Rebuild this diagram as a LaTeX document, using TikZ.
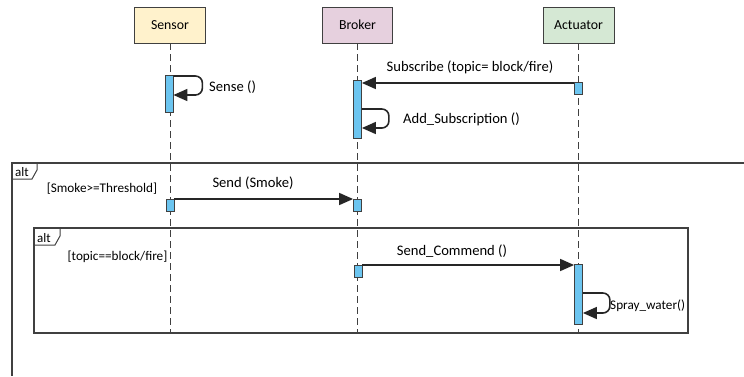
\documentclass[tikz,border=0pt]{standalone}
\usepackage{fontspec}
\setmainfont{Carlito}
\usetikzlibrary{arrows.meta}
\definecolor{sensorfill}{HTML}{FFF2CC}
\definecolor{brokerfill}{HTML}{E6D0DE}
\definecolor{actfill}{HTML}{D5E8D4}
\definecolor{actbar}{HTML}{6CC5F0}
\definecolor{linegray}{HTML}{404040}
\begin{document}
\begin{tikzpicture}[x=1pt,y=-1pt,
  font=\fontsize{14.6}{17}\selectfont,
  participant/.style={draw=linegray, line width=0.8pt, minimum width=71pt, minimum height=36pt, inner sep=0pt, font=\fontsize{13.8}{16}\selectfont},
  lifeline/.style={draw=linegray, dash pattern=on 7pt off 4pt, line width=0.8pt},
  actbox/.style={draw=linegray, fill=actbar, line width=0.8pt, minimum width=8pt, inner sep=0pt, anchor=north},
  msg/.style={draw=black!85, line width=1.6pt, -{Triangle[length=14pt,width=12pt]}},
  selfmsg/.style={msg, rounded corners=7pt},
  frameline/.style={draw=linegray, line width=1.3pt},
  lbl/.style={inner sep=0pt},
  small/.style={lbl, font=\fontsize{13.2}{15}\selectfont},
  altlbl/.style={lbl, anchor=west, font=\fontsize{13}{15}\selectfont},
]
\useasboundingbox (0,0) rectangle (744,376);

% participants
\node[participant, fill=sensorfill] (sensor) at (170,25) {Sensor};
\node[participant, fill=brokerfill, minimum width=70pt] (broker) at (357.5,25) {Broker};
\node[participant, fill=actfill] (actuator) at (578.5,25) {Actuator};

\coordinate (sensorEnd) at (170,333);
\coordinate (brokerEnd) at (357.5,333);
\coordinate (actuatorEnd) at (578.5,333);
\draw[lifeline] (sensor.south) -- (sensorEnd);
\draw[lifeline] (broker.south) -- (brokerEnd);
\draw[lifeline] (actuator.south) -- (actuatorEnd);

% frames
\draw[frameline] (744,163) -- (12,163) -- (12,376);
\draw[frameline, line width=1pt] (12,179) -- (32,179) -- (37,170) -- (37,163);
\node[altlbl] (alt1) at (15,172) {alt};
\draw[frameline] (34,228) rectangle (688,333);
\draw[frameline, line width=1pt] (34,245) -- (55,245) -- (60,236) -- (60,228);
\node[altlbl] (alt2) at (37,238) {alt};

% activations
\node[actbox, minimum height=37pt] (sa1) at (169,75) {};
\node[actbox, minimum height=58pt] (ba1) at (357.5,80) {};
\node[actbox, minimum height=12pt] (aa1) at (578.5,82) {};
\node[actbox, minimum height=12pt] (sa2) at (170,199) {};
\node[actbox, minimum height=12pt] (ba2) at (357.5,199) {};
\node[actbox, minimum height=12pt] (ba3) at (358,265) {};
\node[actbox, minimum height=60pt] (aa2) at (578.5,264) {};

% messages
\draw[selfmsg] ([yshift=-1pt]sa1.north east) -- ++(29,0) -- ++(0,19) -- ([yshift=-20pt]sa1.north east);
\node[lbl, anchor=west] (senseL) at (209,87) {Sense ()};

\draw[msg] ([yshift=-1pt]aa1.north west) -- ([yshift=-3pt]ba1.north east);
\node[lbl] (subL) at (470,67) {Subscribe (topic= block/fire)};

\draw[selfmsg] ([yshift=-29pt]ba1.north east) -- ++(27,0) -- ++(0,19) -- ([yshift=-48pt]ba1.north east);
\node[lbl, anchor=west] (addL) at (403,119) {Add\_Subscription ()};

\node[small] (condA) at (102,189) {[Smoke>=Threshold]};
\draw[msg] (sa2.north east) -- (ba2.north west);
\node[lbl] (sendL) at (253,183) {Send (Smoke)};

\node[small] (condB) at (117.5,257) {[topic==block/fire]};
\draw[msg] (ba3.north east) -- ([yshift=-1pt]aa2.north west);
\node[lbl] (cmdL) at (452,251) {Send\_Commend ()};

\draw[selfmsg] ([yshift=-29pt]aa2.north east) -- ++(27,0) -- ++(0,20) -- ([yshift=-49pt]aa2.north east);
\node[small, anchor=west] (sprayL) at (610,306) {Spray\_water()};
\end{tikzpicture}
\end{document}
